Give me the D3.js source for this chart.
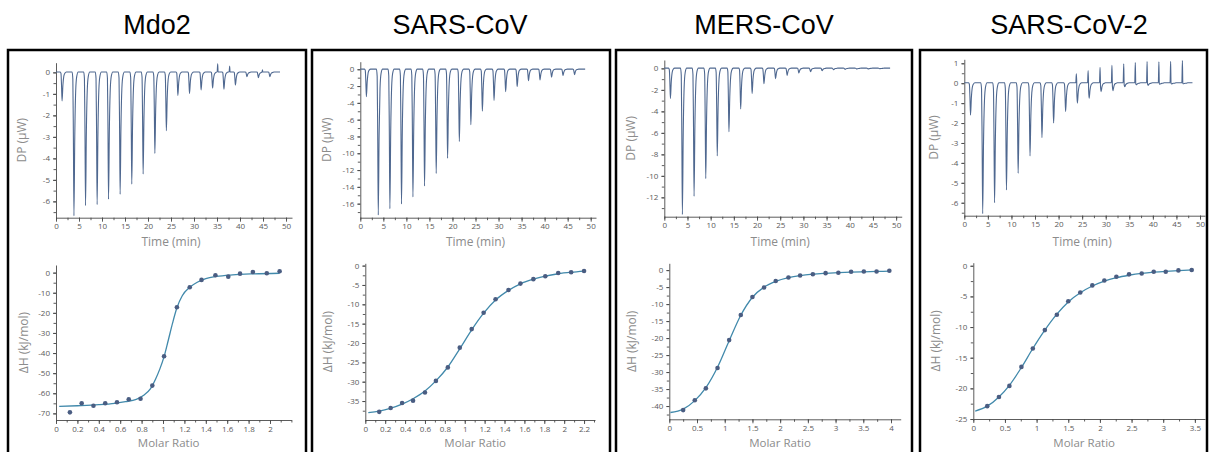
<!DOCTYPE html>
<html><head><meta charset="utf-8">
<script src="https://cdn.jsdelivr.net/npm/d3@7"></script>
<style>
body{margin:0;background:#fff;}
svg{display:block;font-family:"Open Sans","Noto Sans",sans-serif;}
</style></head><body><svg id="c" width="1210" height="452"></svg>
<script>
// ---------------- data ----------------
const titles = ["Mdo2", "SARS-CoV", "MERS-CoV", "SARS-CoV-2"];

// injection times (min) of the thermograms
const injTimes = [1.2,3.78,6.3,8.82,11.3,13.82,16.35,18.82,21.37,23.87,26.37,28.9,31.42,33.92,36.38,38.88,41.38,43.87,46.37];
const traceEnd = [48.7, 48.8, 48.7, 48.4];

// thermogram peak depths (µW)
const mdo2Dips  = [-1.33,-6.67,-6.2,-6.15,-5.9,-5.67,-5.2,-4.73,-3.77,-2.71,-1.07,-0.98,-0.82,-0.73,-0.78,-0.59,-0.2,-0.25,-0.2];
const sarsDips  = [-3.26,-17.35,-16.6,-16.04,-15.2,-13.9,-12.4,-10.6,-8.6,-6.6,-5.0,-3.7,-2.66,-2.06,-1.35,-1.27,-0.95,-0.75,-0.64];
const mersDips  = [-2.8,-13.6,-11.9,-10.26,-8.15,-5.9,-3.78,-2.33,-1.43,-0.96,-0.65,-0.43,-0.31,-0.22,-0.12,-0.09,-0.06,-0.05,-0.03];
const sars2Dips = [-1.6,-6.55,-6.0,-5.36,-4.52,-3.65,-2.73,-2.0,-1.42,-1.0,-0.75,-0.42,-0.37,-0.18,-0.08,-0.1,-0.05,-0.04,-0.03];
// positive spikes (µW)
const sars2Spikes = [0,0,0,0,0,0,0,0,0,0.47,0.64,0.8,0.9,0.97,1.04,1.09,1.07,1.1,1.14];
const mdo2Blips = [[35.25,0.4],[37.85,0.3],[45.0,0.12]];

// integrated heats: molar ratio and ΔH (kJ/mol)
const mdo2X  = [0.13,0.24,0.35,0.46,0.57,0.68,0.79,0.90,1.01,1.13,1.25,1.36,1.49,1.61,1.72,1.84,1.97,2.09];
const mdo2Y  = [-69.5,-65,-66.2,-65,-64.5,-63,-62.7,-56.2,-41.6,-17.2,-7.3,-3.6,-1.3,-2,-0.5,0.3,-0.3,0.7];
const mdo2FitX = [0.03,0.2,0.4,0.55,0.65,0.75,0.82,0.88,0.93,0.97,1.01,1.05,1.09,1.13,1.18,1.25,1.32,1.4,1.5,1.65,1.85,2.09];
const mdo2FitY = [-66.5,-66.2,-65.7,-65,-64.2,-63,-61,-58,-53,-48,-41.8,-33.5,-25,-17.5,-11.5,-7.3,-4.8,-3.0,-1.9,-1.1,-0.6,-0.3];

const sarsX  = [0.14,0.255,0.37,0.48,0.6,0.71,0.83,0.95,1.07,1.19,1.31,1.44,1.56,1.69,1.81,1.94,2.07,2.2];
const sarsY  = [-37.8,-36.8,-35.5,-34.9,-32.8,-29.8,-26.3,-21.2,-16.4,-12.2,-8.7,-6.3,-4.65,-3.5,-2.76,-1.9,-1.7,-1.4];
const sarsFitX = [0.03,0.14,0.25,0.37,0.48,0.6,0.71,0.83,0.95,1.07,1.19,1.31,1.44,1.56,1.69,1.81,1.94,2.07,2.2];
const sarsFitY = [-38.0,-37.6,-36.9,-35.8,-34.4,-32.4,-29.8,-26.2,-21.5,-16.6,-12.3,-8.9,-6.4,-4.7,-3.5,-2.7,-2.1,-1.7,-1.4];

const mersX  = [0.25,0.46,0.66,0.87,1.08,1.29,1.5,1.71,1.92,2.15,2.36,2.59,2.82,3.05,3.28,3.51,3.74,3.97];
const mersY  = [-41.2,-38.3,-34.8,-28.8,-20.6,-13.2,-7.9,-5.1,-3.2,-2.2,-1.6,-1.2,-0.9,-0.8,-0.5,-0.4,-0.4,-0.2];
const mersFitX = [0.02,0.25,0.46,0.66,0.87,1.08,1.29,1.5,1.71,1.92,2.15,2.36,2.59,2.82,3.05,3.28,3.51,3.74,3.97];
const mersFitY = [-41.9,-40.9,-38.4,-34.6,-28.6,-20.8,-13.3,-8.0,-5.0,-3.3,-2.2,-1.6,-1.2,-0.95,-0.75,-0.6,-0.5,-0.4,-0.3];

const sars2X = [0.22,0.405,0.57,0.76,0.94,1.13,1.32,1.5,1.69,1.88,2.07,2.26,2.46,2.66,2.85,3.04,3.24,3.45];
const sars2Y = [-22.9,-21.4,-19.6,-16.5,-13.5,-10.5,-8.0,-5.8,-4.35,-3.2,-2.4,-1.8,-1.4,-1.25,-0.98,-0.98,-0.76,-0.7];
const sars2FitX = [0.03,0.22,0.405,0.57,0.76,0.94,1.13,1.32,1.5,1.69,1.88,2.07,2.26,2.46,2.66,2.85,3.04,3.24,3.45];
const sars2FitY = [-23.7,-22.9,-21.4,-19.5,-16.6,-13.5,-10.5,-7.9,-5.9,-4.4,-3.3,-2.5,-1.95,-1.55,-1.25,-1.05,-0.9,-0.78,-0.68];

// tick values
const timeTicks = [0,5,10,15,20,25,30,35,40,45,50];
const mdo2DPTicks  = [0,-1,-2,-3,-4,-5,-6];
const sarsDPTicks  = [0,-2,-4,-6,-8,-10,-12,-14,-16];
const mersDPTicks  = [0,-2,-4,-6,-8,-10,-12];
const sars2DPTicks = [1,0,-1,-2,-3,-4,-5,-6];
const mdo2HTicks  = [0,-10,-20,-30,-40,-50,-60,-70];
const sarsHTicks  = [0,-5,-10,-15,-20,-25,-30,-35];
const mersHTicks  = [0,-5,-10,-15,-20,-25,-30,-35,-40];
const sars2HTicks = [0,-5,-10,-15,-20,-25];
const mdo2RTicks  = [0,0.2,0.4,0.6,0.8,1,1.2,1.4,1.6,1.8,2];
const sarsRTicks  = [0,0.2,0.4,0.6,0.8,1,1.2,1.4,1.6,1.8,2,2.2];
const mersRTicks  = [0,0.5,1,1.5,2,2.5,3,3.5,4];
const sars2RTicks = [0,0.5,1,1.5,2,2.5,3,3.5];

// ---------------- layout ----------------
const panels = [
  { title: titles[0], tx: 157, box: [8, 306],
    top: { x:[56,292], xd:[0,51.3], y:[62.7,217.7], yd:[-6.76,0.45], yt: mdo2DPTicks, ym:1, lx:23 },
    bot: { x:[56,291.4], xd:[0,2.2], y:[265,420], yd:[-73.3,3.8], yt: mdo2HTicks, ym:10, xt: mdo2RTicks, xm:0.2, lx:25 },
    dips: mdo2Dips, spikes: null, blips: mdo2Blips, end: traceEnd[0],
    px: mdo2X, py: mdo2Y, fx: mdo2FitX, fy: mdo2FitY },
  { title: titles[1], tx: 460, box: [312, 610],
    top: { x:[360.3,596], xd:[0,51.15], y:[61.7,217.7], yd:[-17.67,0.9], yt: sarsDPTicks, ym:2, lx:328 },
    bot: { x:[365.3,595], xd:[0,2.31], y:[263.3,420], yd:[-39.9,0.6], yt: sarsHTicks, ym:5, xt: sarsRTicks, xm:0.2, lx:329 },
    dips: sarsDips, spikes: null, blips: [], end: traceEnd[1],
    px: sarsX, py: sarsY, fx: sarsFitX, fy: sarsFitY },
  { title: titles[2], tx: 764, box: [616, 912],
    top: { x:[664.3,901.7], xd:[0,51.2], y:[60,216.7], yd:[-13.8,0.78], yt: mersDPTicks, ym:2, lx:632 },
    bot: { x:[669.3,900.7], xd:[0,4.175], y:[263.3,419.3], yd:[-43.9,2], yt: mersHTicks, ym:5, xt: mersRTicks, xm:0.5, lx:633 },
    dips: mersDips, spikes: null, blips: [], end: traceEnd[2],
    px: mersX, py: mersY, fx: mersFitX, fy: mersFitY },
  { title: titles[3], tx: 1069, box: [920, 1207],
    top: { x:[964.3,1205], xd:[0,51.06], y:[59.3,215.7], yd:[-6.65,1.2], yt: sars2DPTicks, ym:1, lx:935 },
    bot: { x:[973.3,1205], xd:[0,3.66], y:[262.7,419], yd:[-25,0.5], yt: sars2HTicks, ym:5, xt: sars2RTicks, xm:0.5, lx:937 },
    dips: sars2Dips, spikes: sars2Spikes, blips: [], end: traceEnd[3],
    px: sars2X, py: sars2Y, fx: sars2FitX, fy: sars2FitY }
];

const svg = d3.select("#c");
const AX = "#4a4a4a", TXT = "#5a5a5a", TTL = "#8c8c8c";
const fmt = d => String(+(+d).toFixed(2));

function minorTicks(dom, step) {
  const lo = Math.ceil(dom[0] / step - 1e-9), hi = Math.floor(dom[1] / step + 1e-9);
  return d3.range(lo, hi + 1).map(k => +(k * step).toFixed(4));
}

function drawAxes(g, xs, ys, cfg, xt, xm) {
  g.append("g").attr("transform", `translate(0,${cfg.y[1]})`)
    .call(d3.axisBottom(xs).tickValues(minorTicks(cfg.xd, xm / 2)).tickSize(2.5).tickFormat("").tickSizeOuter(0))
    .call(a => a.select(".domain").remove());
  g.append("g").attr("transform", `translate(${cfg.x[0]},0)`)
    .call(d3.axisLeft(ys).tickValues(minorTicks(cfg.yd, cfg.ym / 2)).tickSize(2.5).tickFormat("").tickSizeOuter(0))
    .call(a => a.select(".domain").remove());
  g.append("g").attr("transform", `translate(0,${cfg.y[1]})`)
    .call(d3.axisBottom(xs).tickValues(xt).tickSize(4).tickPadding(2).tickFormat(fmt).tickSizeOuter(0));
  g.append("g").attr("transform", `translate(${cfg.x[0]},0)`)
    .call(d3.axisLeft(ys).tickValues(cfg.yt).tickSize(3).tickPadding(3).tickFormat(fmt).tickSizeOuter(0));
  g.selectAll(".domain,.tick line").attr("stroke", AX).attr("stroke-width", 0.9);
  g.selectAll(".tick text").attr("fill", TXT).style("font-size", "8px").style("font-family", '"Open Sans","Noto Sans",sans-serif');
}

// one glyph per injection: drop, peak, exponential-like return to baseline
function tracePoints(dips, spikes, blips, tEnd) {
  const ev = injTimes.map((t, i) => ({ t, d: dips[i], u: spikes ? spikes[i] : 0 }));
  blips.forEach(b => ev.push({ t: b[0], d: 0, u: b[1] }));
  ev.sort((a, b) => a.t - b.t);
  const base = 0.02;
  const pts = [[0, base]];
  ev.forEach(e => {
    const t = e.t, d = e.d, u = e.u;
    if (u > 0) {
      pts.push([t - 0.22, base]);
      pts.push([t - 0.1, u]);
      pts.push([t - 0.02, base]);
    } else {
      pts.push([t - 0.28, base]);
      pts.push([t - 0.12, base + 0.05 * d]);
    }
    if (d < 0) {
      pts.push([t + 0.0, 0.45 * d]);
      pts.push([t + 0.12, d]);
      pts.push([t + 0.3, 0.45 * d]);
      pts.push([t + 0.5, 0.13 * d]);
      pts.push([t + 0.72, 0.03 * d]);
      pts.push([t + 1.05, base]);
    } else {
      pts.push([t + 0.1, base]);
    }
  });
  pts.push([tEnd, base]);
  pts.sort((a, b) => a[0] - b[0]);
  return pts;
}

panels.forEach(p => {
  const g = svg.append("g");
  g.append("text").attr("x", p.tx).attr("y", 34).attr("text-anchor", "middle")
    .style("font-family", '"Liberation Sans",Arial,sans-serif').style("font-size", "27px")
    .attr("fill", "#000").text(p.title);
  g.append("rect").attr("x", p.box[0]).attr("y", 50).attr("width", p.box[1] - p.box[0]).attr("height", 420)
    .attr("fill", "none").attr("stroke", "#000").attr("stroke-width", 2.5);

  // thermogram
  const t = p.top;
  const xs = d3.scaleLinear().domain(t.xd).range(t.x);
  const ys = d3.scaleLinear().domain(t.yd).range([t.y[1], t.y[0]]);
  drawAxes(g, xs, ys, t, timeTicks, 5);
  g.append("path").datum(tracePoints(p.dips, p.spikes, p.blips, p.end))
    .attr("fill", "none").attr("stroke", "#4f6890").attr("stroke-width", 1.1)
    .attr("stroke-linejoin", "round")
    .attr("d", d3.line().curve(d3.curveMonotoneX).x(d => xs(d[0])).y(d => ys(d[1])));
  g.append("text").attr("x", (xs(0) + xs(50)) / 2).attr("y", 246).attr("text-anchor", "middle")
    .attr("fill", TTL).style("font-size", "12px").text("Time (min)");
  g.append("text").attr("transform", `translate(${t.lx},${(t.y[0] + t.y[1]) / 2}) rotate(-90)`)
    .attr("text-anchor", "middle").attr("dominant-baseline", "middle")
    .attr("fill", TTL).style("font-size", "12px").text("DP (μW)");

  // isotherm
  const b = p.bot;
  const xb = d3.scaleLinear().domain(b.xd).range(b.x);
  const yb = d3.scaleLinear().domain(b.yd).range([b.y[1], b.y[0]]);
  drawAxes(g, xb, yb, b, b.xt, b.xm);
  const fit = p.fx.map((x, i) => [x, p.fy[i]]);
  g.append("path").datum(fit).attr("fill", "none").attr("stroke", "#4189ab").attr("stroke-width", 1.3)
    .attr("d", d3.line().curve(d3.curveMonotoneX).x(d => xb(d[0])).y(d => yb(d[1])));
  g.selectAll(null).data(p.px.map((x, i) => [x, p.py[i]])).enter().append("circle")
    .attr("cx", d => xb(d[0])).attr("cy", d => yb(d[1])).attr("r", 2.3).attr("fill", "#4a5d82");
  g.append("text").attr("x", (b.x[0] + b.x[1]) / 2 - 5).attr("y", 447).attr("text-anchor", "middle")
    .attr("fill", TTL).style("font-size", "11.5px").text("Molar Ratio");
  g.append("text").attr("transform", `translate(${b.lx},${(b.y[0] + b.y[1]) / 2}) rotate(-90)`)
    .attr("text-anchor", "middle").attr("dominant-baseline", "middle")
    .attr("fill", TTL).style("font-size", "12px").text("ΔH (kJ/mol)");
});
</script></body></html>
